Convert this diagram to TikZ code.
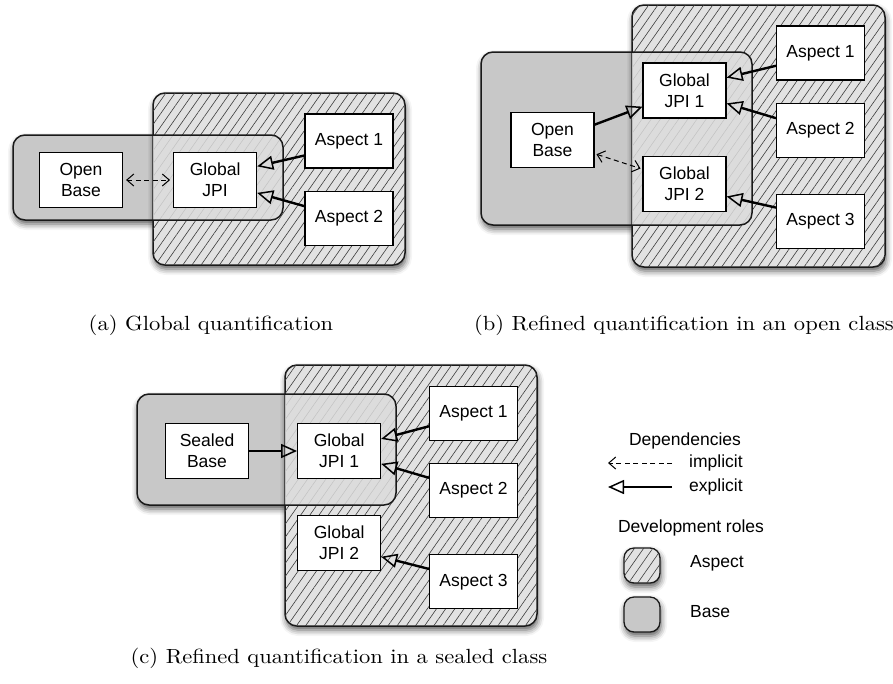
\documentclass[tikz,border=0pt]{standalone}
\usepackage{fontspec}
\setsansfont{Liberation Sans}
\newfontfamily\capfont{lmroman10-regular}[Extension=.otf, FakeStretch=1.1]
\usetikzlibrary{arrows.meta,positioning,patterns.meta,shadows.blur}

\definecolor{basegray}{RGB}{200,200,200}
\definecolor{aspgray}{RGB}{226,226,226}
\definecolor{hatchgray}{RGB}{60,60,60}
\definecolor{overlapgray}{RGB}{220,220,220}
\definecolor{arealine}{RGB}{25,25,25}

% base area, aspect area, their overlap, base border
\newcommand{\rolearea}[4]{%
  \path[basearea] #3 rectangle #4;
  \path[aspectarea] #1 rectangle #2;
  \begin{scope}
    \clip[rounded corners=12pt] #3 rectangle #4;
    \fill[overlap] #1 rectangle #2;
  \end{scope}
  \draw[areaborder] #3 rectangle #4;
}

\begin{document}
\begin{tikzpicture}[
    x=1pt, y=-1pt,
    font=\sffamily\fontsize{17.5}{21}\selectfont,
    soft/.style={blur shadow={shadow xshift=1pt, shadow yshift=-4pt, shadow blur radius=6pt, shadow opacity=65}},
    hatch/.style={postaction={pattern={Lines[angle=55,distance=7.5pt,line width=.6pt]}, pattern color=hatchgray}},
    areaborder/.style={draw=arealine, line width=1.5pt, rounded corners=12pt},
    basearea/.style={fill=basegray, rounded corners=12pt, soft},
    aspectarea/.style={areaborder, fill=aspgray, hatch, soft},
    overlap/.style={fill=overlapgray, fill opacity=.85},
    box/.style={draw, line width=1.1pt, fill=white, minimum width=83pt, minimum height=55pt, align=center, inner sep=2pt},
    aspbox/.style={box, minimum width=88pt, minimum height=54pt},
    key/.style={draw=arealine, line width=1.3pt, rounded corners=10pt, minimum width=36pt, minimum height=35pt, soft},
    caption/.style={font=\capfont\fontsize{20.5}{24}\selectfont},
    lbl/.style={inner sep=0pt},
    explicit/.style={-{Triangle[open, length=16pt, width=14pt, line width=1.5pt]}, line width=2.4pt},
    dep/.style={line width=1pt, dash pattern=on 5pt off 3.5pt, >={Straight Barb[length=7pt, width=12pt]}},
  ]
    \useasboundingbox (0,0) rectangle (893,683);

    % Areas
    \rolearea{(153,93)}{(405,265)}{(13,135)}{(283,220)}
    \rolearea{(632,5)}{(885,267)}{(481,52)}{(752,225)}
    \rolearea{(285,365)}{(537,626)}{(137,394)}{(396,505)}

    % (a) Global quantification
    \node[box] (a-base) at (81,180) {Open\\Base};
    \node[box, right=50pt of a-base] (a-jpi) {Global\\JPI};
    \node[aspbox] (a-asp1) at (349,141) {Aspect 1};
    \node[aspbox, below=22pt of a-asp1] (a-asp2) {Aspect 2};

    \draw[dep, <->, shorten <=3pt, shorten >=3pt] (a-base) -- (a-jpi);
    \draw[explicit] (a-asp1.198) -- (a-jpi.18);
    \draw[explicit] (a-asp2.165) -- (a-jpi.343);

    \node[caption] (a-cap) at (211,325) {(a) Global quantification};

    % (b) Refined quantification, open class
    \node[box] (b-base) at (552.5,140) {Open\\Base};
    \node[box] (b-jpi1) at (684.5,90.5) {Global\\JPI 1};
    \node[box, below=37pt of b-jpi1] (b-jpi2) {Global\\JPI 2};
    \node[aspbox] (b-asp1) at (820.5,53) {Aspect 1};
    \node[aspbox, below=22pt of b-asp1] (b-asp2) {Aspect 2};
    \node[aspbox, below=36pt of b-asp2] (b-asp3) {Aspect 3};

    \draw[explicit] (b-base.20) -- (b-jpi1.201);
    \draw[dep, <->, shorten <=2pt, shorten >=2pt] (b-base.342) -- (b-jpi2.161);
    \draw[explicit] (b-asp1.196) -- (b-jpi1.17);
    \draw[explicit] (b-asp2.165) -- (b-jpi1.343);
    \draw[explicit] (b-asp3.163) -- (b-jpi2.343);

    \node[caption] (b-cap) at (684,325) {(b) Refined quantification in an open class};

    % (c) Refined quantification, sealed class
    \node[box] (c-base) at (207,451) {Sealed\\Base};
    \node[box, right=48pt of c-base] (c-jpi1) {Global\\JPI 1};
    \node[box, below=36pt of c-jpi1] (c-jpi2) {Global\\JPI 2};
    \node[aspbox] (c-asp1) at (473.5,413.5) {Aspect 1};
    \node[aspbox, below=22pt of c-asp1] (c-asp2) {Aspect 2};
    \node[aspbox, below=36pt of c-asp2] (c-asp3) {Aspect 3};

    \draw[explicit] (c-base) -- (c-jpi1);
    \draw[explicit] (c-asp1.196) -- (c-jpi1.16);
    \draw[explicit] (c-asp2.164) -- (c-jpi1.343);
    \draw[explicit] (c-asp3.164) -- (c-jpi2.342);

    \node[caption] (c-cap) at (339,658) {(c) Refined quantification in a sealed class};

    % Legend
    \node[lbl] (dep-title) at (685,441) {Dependencies};
    \node[lbl, anchor=west] (impl-lbl) at (689,463) {implicit};
    \node[lbl, anchor=west] (expl-lbl) at (689,487) {explicit};
    \coordinate (impl-end) at (608,463);
    \coordinate (expl-end) at (608,487);
    \draw[dep, ->] ([xshift=-17pt]impl-lbl.west) -- (impl-end);
    \draw[explicit] ([xshift=-17pt]expl-lbl.west) -- (expl-end);

    \node[lbl] (roles-title) at (691,528) {Development roles};
    \node[key, fill=aspgray, hatch] (asp-key) at (642,565.5) {};
    \node[key, fill=basegray] (base-key) at (642,614.5) {};
    \node[lbl, anchor=west] (asp-key-lbl) at (690,563) {Aspect};
    \node[lbl, anchor=west] (base-key-lbl) at (690,612) {Base};
\end{tikzpicture}
\end{document}
